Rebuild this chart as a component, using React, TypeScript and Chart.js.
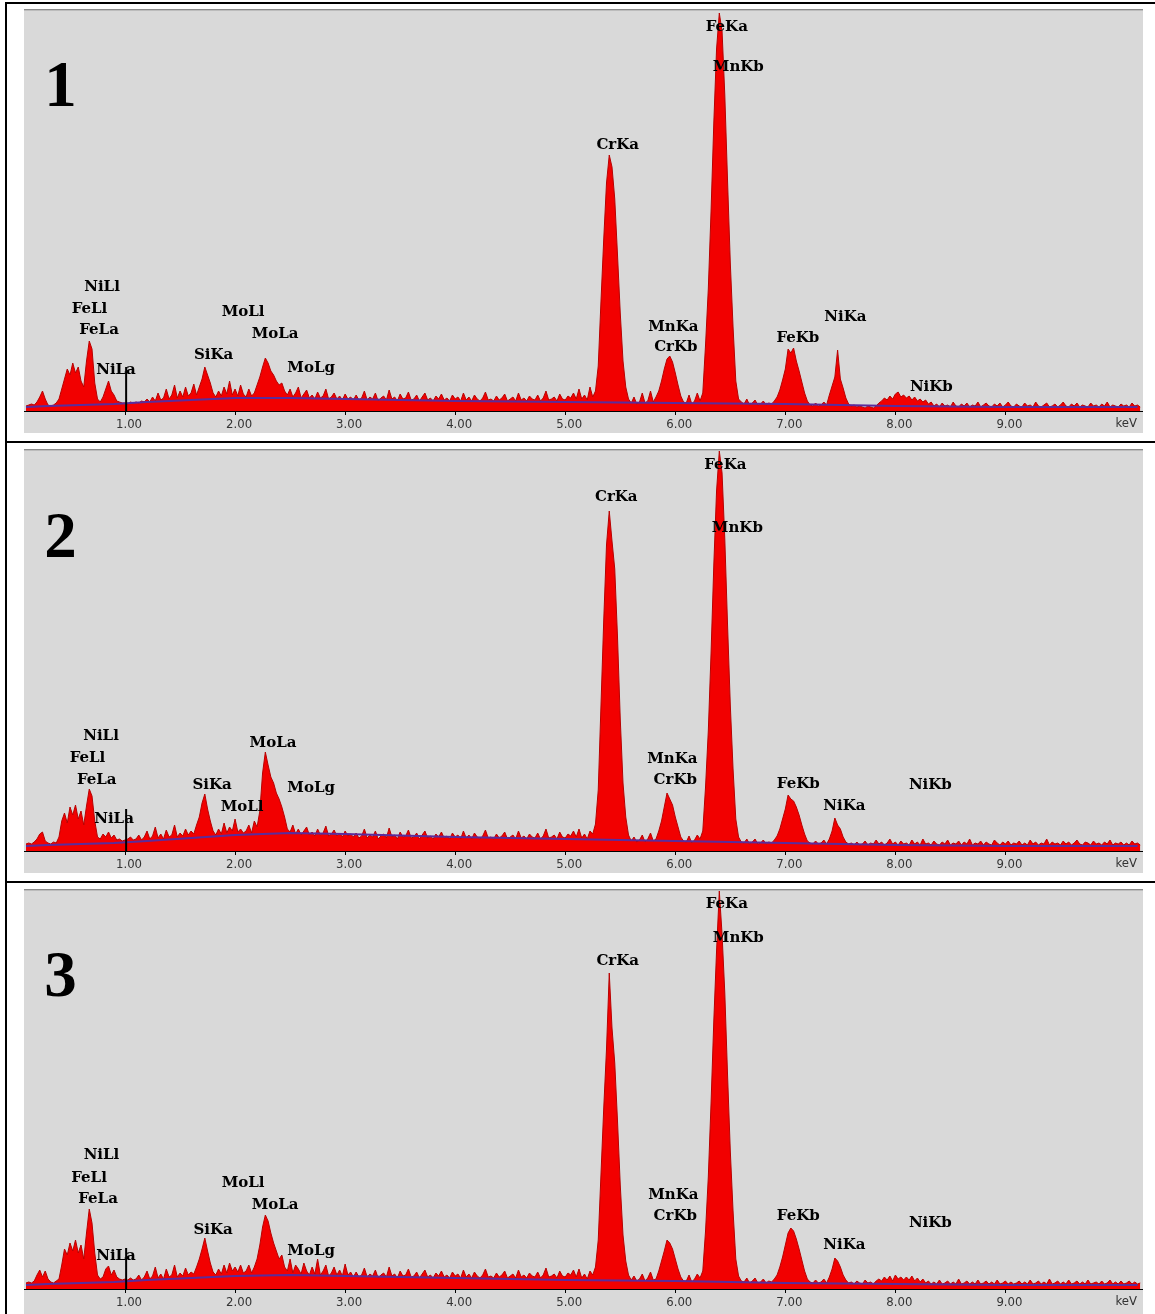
import React, { useEffect, useRef } from 'react';
import { Chart, registerables } from 'chart.js';

Chart.register(...registerables);

// ---- channel calibration (keV) ----
const E_START = 0.1;
const E_STEP = 0.025;

// ---- spectrum counts, one row per keV (40 channels each) ----
const SPECTRUM_1 = [
  5, 6, 7, 6, 9, 14, 20, 12, 6, 5, 6, 8, 12, 22, 32, 42, 36, 48, 38, 44, 30, 24, 50, 70, 62, 28, 12, 9, 14, 22, 30, 20, 16, 10, 9, 8, 8, 7, 9, 8,
  9, 8, 10, 9, 12, 9, 14, 10, 18, 11, 13, 22, 12, 16, 26, 13, 20, 14, 24, 15, 18, 27, 16, 24, 32, 44, 36, 28, 18, 14, 20, 15, 24, 17, 30, 16, 22, 15, 26, 17,
  14, 22, 15, 18, 26, 34, 44, 53, 48, 40, 36, 30, 26, 28, 20, 16, 22, 14, 18, 24, 13, 17, 21, 13, 16, 12, 19, 13, 15, 22, 12, 14, 18, 12, 15, 11, 17, 12, 14, 11,
  16, 11, 13, 20, 11, 14, 12, 18, 10, 13, 15, 11, 21, 12, 14, 10, 17, 12, 13, 19, 11, 12, 16, 10, 14, 18, 11, 13, 10, 15, 12, 17, 11, 13, 10, 16, 12, 14, 10, 18,
  11, 14, 10, 16, 12, 10, 13, 19, 11, 12, 10, 15, 11, 13, 17, 10, 12, 14, 10, 18, 11, 13, 10, 15, 12, 11, 16, 10, 13, 20, 11, 12, 14, 10, 17, 12, 11, 15, 13, 18,
  12, 22, 12, 16, 11, 24, 14, 20, 45, 110, 172, 228, 256, 244, 212, 156, 98, 50, 24, 12, 8, 14, 7, 9, 18, 8, 10, 20, 9, 14, 20, 30, 42, 52, 55, 49, 38, 26, 15, 9,
  8, 16, 7, 10, 18, 10, 18, 66, 122, 200, 288, 362, 398, 380, 316, 230, 148, 84, 30, 12, 9, 7, 12, 6, 8, 11, 6, 7, 10, 6, 8, 7, 10, 14, 21, 31, 42, 62, 58, 63,
  50, 40, 29, 18, 10, 6, 5, 8, 5, 6, 9, 6, 16, 25, 34, 61, 32, 23, 13, 7, 5, 6, 4, 5, 4, 3, 5, 4, 3, 5, 8, 10, 13, 11, 15, 12, 17, 19, 14, 16,
  13, 15, 11, 14, 10, 12, 9, 11, 7, 9, 5, 7, 4, 8, 5, 6, 4, 9, 5, 4, 7, 5, 8, 4, 6, 5, 9, 4, 6, 8, 5, 4, 7, 5, 8, 4, 6, 9, 5, 4,
  7, 5, 4, 8, 5, 6, 4, 9, 5, 4, 6, 8, 4, 5, 7, 4, 6, 9, 5, 4, 7, 5, 8, 4, 6, 5, 4, 8, 5, 6, 4, 7, 5, 9, 4, 6, 5, 4, 7, 5,
  6, 4, 8, 5, 6, 4,
];

const SPECTRUM_2 = [
  7, 8, 7, 9, 12, 17, 19, 10, 8, 7, 9, 8, 14, 30, 38, 28, 44, 36, 46, 32, 40, 26, 45, 62, 55, 30, 14, 12, 17, 14, 19, 13, 16, 11, 12, 10, 11, 12, 14, 11,
  12, 16, 11, 14, 20, 12, 15, 24, 13, 17, 12, 21, 14, 16, 26, 14, 18, 15, 22, 16, 20, 17, 26, 34, 48, 57, 42, 30, 20, 16, 22, 17, 28, 18, 24, 20, 32, 19, 22, 18,
  20, 26, 18, 30, 24, 40, 78, 99, 86, 74, 68, 58, 52, 44, 34, 22, 19, 26, 17, 22, 16, 20, 24, 16, 19, 15, 22, 16, 18, 25, 15, 17, 21, 15, 18, 14, 20, 15, 17, 14,
  18, 13, 15, 22, 13, 16, 14, 20, 12, 15, 17, 13, 23, 14, 16, 12, 19, 14, 15, 21, 13, 14, 18, 12, 16, 20, 13, 15, 12, 17, 14, 19, 13, 15, 12, 18, 14, 16, 12, 20,
  13, 16, 12, 18, 14, 12, 15, 21, 13, 14, 12, 17, 13, 15, 19, 12, 14, 16, 12, 20, 13, 15, 12, 17, 14, 13, 18, 12, 15, 22, 13, 14, 16, 12, 19, 14, 13, 17, 15, 20,
  14, 22, 13, 17, 12, 20, 17, 27, 61, 146, 231, 306, 340, 310, 282, 214, 132, 68, 34, 16, 10, 14, 9, 11, 16, 9, 12, 18, 10, 12, 20, 30, 44, 58, 52, 46, 34, 24, 14, 10,
  9, 15, 8, 11, 16, 12, 20, 64, 120, 198, 286, 360, 400, 378, 312, 226, 146, 82, 32, 14, 9, 8, 12, 7, 9, 12, 7, 8, 11, 7, 9, 8, 11, 15, 22, 32, 42, 56, 52, 50,
  44, 36, 26, 17, 10, 8, 7, 10, 7, 8, 11, 7, 12, 20, 33, 26, 22, 14, 9, 7, 8, 6, 9, 6, 7, 10, 6, 8, 7, 11, 7, 9, 6, 8, 12, 7, 9, 6, 10, 7,
  8, 6, 11, 7, 9, 6, 12, 7, 8, 6, 10, 7, 6, 9, 7, 11, 6, 8, 7, 10, 6, 9, 7, 12, 6, 8, 7, 10, 6, 9, 7, 6, 11, 8, 6, 9, 7, 10, 6, 8,
  7, 10, 6, 8, 6, 11, 7, 9, 6, 8, 7, 12, 6, 9, 7, 8, 6, 10, 7, 9, 6, 8, 11, 7, 6, 9, 8, 6, 10, 7, 8, 6, 9, 7, 11, 6, 8, 7, 9, 6,
  8, 6, 10, 7, 8, 6,
];

const SPECTRUM_3 = [
  6, 7, 6, 8, 14, 19, 12, 18, 10, 7, 6, 8, 10, 24, 40, 34, 46, 38, 49, 36, 44, 30, 56, 80, 66, 36, 14, 10, 12, 20, 23, 14, 19, 12, 10, 9, 10, 9, 11, 9,
  10, 14, 9, 12, 18, 10, 13, 22, 11, 15, 10, 20, 12, 14, 24, 12, 16, 13, 21, 14, 17, 15, 22, 30, 40, 51, 38, 26, 17, 14, 20, 15, 24, 16, 26, 18, 22, 17, 24, 16,
  18, 24, 16, 22, 30, 44, 62, 74, 68, 56, 46, 38, 30, 34, 22, 18, 30, 16, 24, 20, 15, 26, 18, 14, 22, 15, 30, 14, 18, 24, 13, 16, 22, 14, 19, 13, 25, 14, 17, 12,
  17, 12, 14, 21, 12, 15, 13, 19, 11, 14, 16, 12, 22, 13, 15, 11, 18, 13, 14, 20, 12, 13, 17, 11, 15, 19, 12, 14, 11, 16, 13, 18, 12, 14, 11, 17, 13, 15, 11, 19,
  12, 15, 11, 17, 13, 11, 14, 20, 12, 13, 11, 16, 12, 14, 18, 11, 13, 15, 11, 19, 12, 14, 11, 16, 13, 12, 17, 11, 14, 21, 12, 13, 15, 11, 18, 13, 12, 16, 14, 19,
  12, 20, 11, 15, 10, 18, 14, 22, 49, 115, 181, 240, 316, 261, 226, 168, 104, 54, 28, 14, 9, 13, 8, 10, 15, 8, 11, 17, 9, 10, 18, 28, 38, 49, 46, 40, 30, 20, 12, 8,
  8, 14, 7, 10, 15, 11, 18, 58, 112, 186, 268, 338, 398, 355, 296, 214, 138, 78, 30, 13, 8, 7, 11, 6, 8, 11, 6, 7, 10, 6, 8, 7, 10, 14, 22, 32, 44, 56, 61, 58,
  50, 40, 29, 18, 10, 7, 6, 9, 6, 7, 10, 6, 12, 20, 31, 28, 22, 14, 9, 6, 7, 5, 8, 6, 5, 9, 6, 7, 5, 8, 10, 8, 12, 9, 13, 8, 14, 10, 12, 9,
  12, 9, 13, 8, 11, 7, 10, 6, 8, 5, 7, 5, 9, 5, 6, 8, 5, 7, 5, 10, 5, 6, 8, 5, 7, 5, 9, 5, 6, 8, 5, 7, 5, 9, 5, 6, 8, 5, 7, 5,
  6, 8, 5, 7, 5, 9, 5, 6, 8, 5, 7, 5, 10, 5, 6, 8, 5, 7, 5, 9, 5, 6, 8, 5, 7, 5, 9, 5, 6, 7, 5, 8, 5, 6, 9, 5, 7, 5, 8, 5,
  6, 8, 5, 7, 5, 6,
];

// ---- continuum (background fit) ----
const BG_KEV = [0.1, 0.3, 0.6, 0.9, 1.2, 1.6, 2.0, 2.5, 3.0, 4.0, 5.0, 6.0, 7.0, 8.0, 9.0, 10.2];
const BG_1 = [4, 5, 6, 7, 9, 11, 13, 13, 12, 10, 9, 8, 7, 5, 4, 4];
const BG_2 = [5, 6, 7, 8, 10, 13, 16, 18, 17, 14, 12, 10, 8, 6, 5, 5];
const BG_3 = [4, 5, 6, 7, 9, 11, 13, 14, 13, 11, 9, 8, 6, 5, 4, 4];

// ---- axis ----
const X_MIN = 0.082;
const X_MAX = 10.25;
const TICK_KEV = [1, 2, 3, 4, 5, 6, 7, 8, 9];
const AXIS_UNIT = 'keV';

// ---- peak labels ----
const LINE_NAMES = ['FeKa', 'MnKb', 'CrKa', 'MnKa', 'CrKb', 'FeKb', 'NiKa', 'NiKb', 'NiLl', 'FeLl', 'FeLa', 'NiLa', 'MoLl', 'MoLa', 'SiKa', 'MoLg'];
const LABEL_KEV_1 = [6.468, 6.573, 5.477, 5.982, 6.005, 7.114, 7.545, 8.327, 0.791, 0.677, 0.764, 0.918, 2.073, 2.364, 1.805, 2.691];
const LABEL_Y_1 = [384, 343.5, 266, 84, 63.5, 72.5, 93.5, 24, 123.5, 102, 81, 41, 99, 77, 56, 43];
const LABEL_KEV_2 = [6.455, 6.564, 5.464, 5.973, 6.0, 7.118, 7.536, 8.318, 0.782, 0.659, 0.743, 0.9, 2.064, 2.345, 1.791, 2.691];
const LABEL_Y_2 = [386, 323, 354, 92, 71, 67, 45, 66, 115, 92.5, 70.5, 32, 43.5, 107.5, 66, 63];
const LABEL_KEV_3 = [6.468, 6.573, 5.477, 5.982, 6.0, 7.118, 7.536, 8.318, 0.786, 0.673, 0.755, 0.918, 2.073, 2.364, 1.8, 2.691];
const LABEL_Y_3 = [385, 351, 327.5, 94, 73, 73, 44, 66, 134, 111, 90, 33, 106, 83.5, 59, 38];

const PANEL_NUMBERS = ['1', '2', '3'];
const MARKER_KEV = 1.01;
const MARKER_HEIGHT = [44, 42, 41];

const SPECTRA = [SPECTRUM_1, SPECTRUM_2, SPECTRUM_3];
const BACKGROUNDS = [BG_1, BG_2, BG_3];
const LABEL_KEVS = [LABEL_KEV_1, LABEL_KEV_2, LABEL_KEV_3];
const LABEL_YS = [LABEL_Y_1, LABEL_Y_2, LABEL_Y_3];

// ---- layout (pixels) ----
const PLOT_LEFT = 24;
const PLOT_WIDTH = 1119;
const PANEL_LAYOUT = [
  { top: 9, height: 424, axis: 402, numBase: 97 },
  { top: 449, height: 424, axis: 402, numBase: 108 },
  { top: 889, height: 425, axis: 400, numBase: 107 },
];

const TICK_FONT_FAMILY = '"Liberation Sans Narrow", "DejaVu Sans Condensed", "Liberation Sans", sans-serif';

function SpectrumPanel({ index }: { index: number }) {
  const ref = useRef<HTMLCanvasElement | null>(null);
  const lay = PANEL_LAYOUT[index];

  useEffect(() => {
    const canvas = ref.current;
    if (!canvas) return;
    const spectrum = SPECTRA[index];
    const bg = BACKGROUNDS[index];
    const band = lay.height - lay.axis;

    const labelPlugin = {
      id: 'eds-labels',
      afterDraw(chart: any) {
        const ctx = chart.ctx;
        const xs = chart.scales.x;
        const ys = chart.scales.y;
        ctx.save();
        ctx.fillStyle = '#000';
        ctx.font = 'bold 15px "DejaVu Serif", serif';
        ctx.textAlign = 'center';
        ctx.textBaseline = 'middle';
        LINE_NAMES.forEach((name, k) => {
          ctx.fillText(name, xs.getPixelForValue(LABEL_KEVS[index][k]), ys.getPixelForValue(LABEL_YS[index][k]));
        });
        ctx.font = 'bold 65px "Liberation Serif", serif';
        ctx.textBaseline = 'alphabetic';
        ctx.fillText(PANEL_NUMBERS[index], 36.5, lay.numBase);
        ctx.font = '13px ' + TICK_FONT_FAMILY;
        ctx.fillStyle = '#333';
        ctx.textAlign = 'right';
        ctx.textBaseline = 'top';
        ctx.fillText(AXIS_UNIT, 1113, chart.chartArea.bottom + 6);
        ctx.restore();
      },
    };

    const chart = new Chart(canvas, {
      type: 'line',
      data: {
        datasets: [
          {
            label: 'marker',
            data: [
              { x: MARKER_KEV, y: 0 },
              { x: MARKER_KEV, y: MARKER_HEIGHT[index] },
            ],
            borderColor: '#000',
            borderWidth: 2,
            pointRadius: 0,
            fill: false,
            order: 0,
          },
          {
            label: 'continuum',
            data: BG_KEV.map((e, k) => ({ x: e, y: bg[k] })),
            borderColor: '#5a2c9c',
            borderWidth: 2,
            pointRadius: 0,
            fill: false,
            order: 1,
          },
          {
            label: 'spectrum',
            data: spectrum.map((v, i) => ({ x: E_START + i * E_STEP, y: v })),
            borderColor: '#b80000',
            backgroundColor: '#f20000',
            borderWidth: 1,
            pointRadius: 0,
            fill: 'origin',
            tension: 0,
            order: 2,
          },
        ],
      },
      options: {
        animation: false,
        responsive: false,
        maintainAspectRatio: false,
        events: [],
        layout: { padding: 0 },
        plugins: {
          legend: { display: false },
          tooltip: { enabled: false },
          title: { display: false },
        },
        scales: {
          x: {
            type: 'linear',
            position: 'bottom',
            min: X_MIN,
            max: X_MAX,
            afterBuildTicks: (scale: any) => {
              scale.ticks = TICK_KEV.map((v) => ({ value: v }));
            },
            afterFit: (scale: any) => {
              scale.height = band;
              scale.paddingLeft = 0;
              scale.paddingRight = 0;
            },
            grid: {
              display: true,
              drawOnChartArea: false,
              drawTicks: true,
              tickLength: 4,
              tickColor: '#000',
            },
            border: { display: true, color: '#000', width: 1 },
            ticks: {
              autoSkip: false,
              maxRotation: 0,
              padding: 2,
              labelOffset: 4,
              color: '#333',
              font: { family: TICK_FONT_FAMILY, size: 13 },
              callback: (v: any) => Number(v).toFixed(2),
            },
          },
          y: {
            display: false,
            min: 0,
            max: lay.axis,
          },
        },
      },
      plugins: [labelPlugin],
    } as any);

    return () => chart.destroy();
  }, [index]);

  return (
    <div
      style={{
        position: 'absolute',
        left: PLOT_LEFT,
        top: lay.top,
        width: PLOT_WIDTH,
        height: lay.height,
        background: '#d9d9d9',
      }}
    >
      <canvas ref={ref} width={PLOT_WIDTH} height={lay.height} style={{ display: 'block' }} />
      <div style={{ position: 'absolute', left: 0, top: 0, width: PLOT_WIDTH, height: 1, background: '#8c8c8c' }} />
      <div style={{ position: 'absolute', left: 0, top: 1, width: PLOT_WIDTH, height: 1, background: '#bcbcbc' }} />
    </div>
  );
}

const RULES = [
  { left: 5, top: 2, width: 1150, height: 2 },
  { left: 5, top: 2, width: 2, height: 1312 },
  { left: 5, top: 441, width: 1150, height: 2 },
  { left: 5, top: 881, width: 1150, height: 2 },
];

export default function App() {
  return (
    <div style={{ position: 'absolute', left: 0, top: 0, width: 1155, height: 1314, background: '#fff', overflow: 'hidden' }}>
      {PANEL_NUMBERS.map((_, i) => (
        <SpectrumPanel key={i} index={i} />
      ))}
      {RULES.map((r, i) => (
        <div key={'r' + i} style={{ position: 'absolute', background: '#000', ...r }} />
      ))}
    </div>
  );
}
